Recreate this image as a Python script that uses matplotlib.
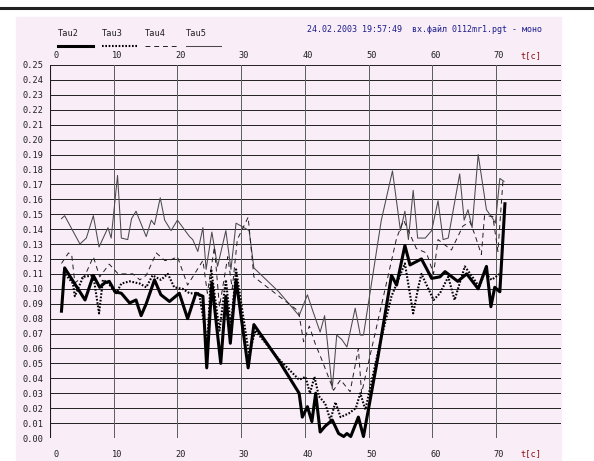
import matplotlib.pyplot as plt
from matplotlib.lines import Line2D
from matplotlib.patches import Rectangle
import numpy as np

# Series: time (s) and value
tau2_t = [1.8, 2.3, 5.5, 6.8, 7.8, 8.6, 9.3, 10.2, 11.2, 12.5, 13.5, 14.3, 15.1,
          16.4, 17.4, 18.75, 20.3, 21.6, 22.9, 24.0, 24.6, 25.4, 26.8, 27.6,
          28.3, 29.2, 31.1, 32.0, 35.9, 39.1, 39.6, 40.4, 41.1, 41.7, 42.4,
          43.2, 44.3, 45.3, 46.1, 46.6, 47.2, 48.4, 49.2, 51.5, 53.6, 54.4,
          55.7, 56.5, 58.3, 59.9, 61.2, 62.0, 64.0, 65.4, 67.2, 68.5, 69.2,
          69.8, 70.6, 71.4]
tau2_v = [0.085, 0.114, 0.0925, 0.109, 0.101, 0.104, 0.105, 0.098, 0.097,
          0.0905, 0.0925, 0.082, 0.090, 0.106, 0.096, 0.0915, 0.097, 0.080,
          0.097, 0.095, 0.047, 0.104, 0.050, 0.095, 0.0635, 0.106, 0.047,
          0.076, 0.052, 0.030, 0.014, 0.021, 0.011, 0.030, 0.004, 0.008,
          0.012, 0.003, 0.001, 0.003, 0.001, 0.014, 0.001, 0.055, 0.109,
          0.1025, 0.129, 0.116, 0.120, 0.107, 0.108, 0.1115, 0.105, 0.110,
          0.100, 0.115, 0.088, 0.101, 0.098, 0.157]

tau3_t = [2.1, 3.6, 3.9, 5.2, 6.8, 7.7, 8.3, 9.1, 10.4, 11.2, 12.5, 14.1, 15.1,
          16.1, 17.4, 18.5, 19.5, 20.8, 21.9, 23.4, 24.7, 25.3, 26.6, 27.6,
          28.4, 29.2, 31.25, 32.2, 35.9, 39.1, 40.1, 40.8, 41.5, 42.2, 43.2,
          44.0, 44.8, 45.6, 46.9, 48.0, 48.7, 49.5, 51.5, 53.6, 55.7, 57.0,
          57.8, 58.3, 60.2, 61.2, 62.5, 63.5, 65.1, 66.3, 67.4, 68.2, 69.3,
          70.6]
tau3_v = [0.1115, 0.1035, 0.095, 0.108, 0.109, 0.0835, 0.106, 0.104, 0.097,
          0.1035, 0.105, 0.1035, 0.101, 0.109, 0.106, 0.110, 0.101, 0.100,
          0.097, 0.097, 0.0635, 0.113, 0.072, 0.106, 0.0745, 0.113, 0.0555,
          0.072, 0.053, 0.039, 0.041, 0.030, 0.041, 0.028, 0.023, 0.012,
          0.024, 0.014, 0.0165, 0.020, 0.030, 0.019, 0.058, 0.095, 0.117,
          0.0835, 0.101, 0.110, 0.0925, 0.097, 0.108, 0.0925, 0.115, 0.108,
          0.101, 0.111, 0.106, 0.110]

tau4_t = [1.8, 2.9, 3.4, 3.9, 5.5, 6.8, 7.8, 9.3, 10.7, 13.0, 14.1, 15.1, 16.7,
          18.0, 18.75, 20.0, 21.6, 24.0, 24.7, 25.8, 26.6, 27.9, 28.6, 29.4,
          31.1, 32.0, 39.0, 39.8, 40.7, 41.6, 42.7, 44.5, 45.6, 47.1, 48.4,
          48.9, 54.4, 55.5, 57.5, 59.1, 60.2, 60.9, 63.0, 64.8, 65.9, 66.7,
          67.7, 68.2, 69.5, 70.3, 71.1]
tau4_v = [0.117, 0.124, 0.123, 0.104, 0.109, 0.1215, 0.108, 0.1165, 0.110,
          0.110, 0.106, 0.109, 0.124, 0.119, 0.119, 0.1215, 0.1025, 0.119,
          0.097, 0.128, 0.088, 0.1215, 0.100, 0.133, 0.148, 0.108, 0.085,
          0.0645, 0.075, 0.0635, 0.052, 0.032, 0.039, 0.031, 0.060, 0.030,
          0.134, 0.146, 0.127, 0.124, 0.110, 0.133, 0.126, 0.142, 0.145,
          0.136, 0.123, 0.149, 0.1485, 0.125, 0.173]

tau5_t = [1.8, 2.3, 4.7, 5.7, 6.8, 7.7, 9.1, 9.6, 10.6, 11.2, 12.2, 12.8, 13.5,
          15.1, 15.9, 16.4, 17.3, 18.0, 19.0, 20.0, 21.9, 22.4, 23.2, 24.0,
          24.5, 25.4, 26.3, 27.6, 28.4, 29.2, 31.25, 32.0, 35.9, 39.1, 40.4,
          41.1, 42.4, 43.1, 44.3, 45.0, 45.8, 46.6, 47.9, 48.7, 49.2, 52.0,
          53.75, 55.0, 55.7, 56.25, 57.0, 57.7, 58.9, 59.9, 60.9, 61.7, 62.5,
          64.3, 65.0, 65.6, 66.25, 67.2, 68.5, 69.5, 69.9, 70.6, 71.25]
tau5_v = [0.147, 0.149, 0.130, 0.134, 0.149, 0.128, 0.141, 0.134, 0.176,
          0.134, 0.133, 0.147, 0.152, 0.135, 0.146, 0.143, 0.161, 0.146,
          0.139, 0.146, 0.135, 0.133, 0.125, 0.141, 0.113, 0.138, 0.115,
          0.139, 0.113, 0.144, 0.139, 0.114, 0.098, 0.082, 0.096, 0.087,
          0.071, 0.082, 0.033, 0.069, 0.066, 0.061, 0.087, 0.069, 0.069,
          0.146, 0.179, 0.139, 0.152, 0.133, 0.166, 0.134, 0.134, 0.139,
          0.159, 0.133, 0.134, 0.177, 0.146, 0.153, 0.141, 0.190, 0.153,
          0.147, 0.144, 0.174, 0.172]

names = ['Tau2', 'Tau3', 'Tau4', 'Tau5']
x_ticks = [0, 10, 20, 30, 40, 50, 60, 70]
y_ticks = np.round(np.arange(0, 0.2501, 0.01), 2)
header = '24.02.2003 19:57:49  вх.файл 0112mr1.pgt - моно'

W, H = 594, 461
FONT = 'DejaVu Sans Mono'
PINK = '#f9eef8'


def fx(px):
    return px / W


def fy(py):
    return 1 - py / H


fig = plt.figure(figsize=(W / 100, H / 100), dpi=100, facecolor='white')

# rule at the very top and the pink panel
fig.add_artist(Line2D([0, 1], [fy(8), fy(8)], color='#202020', lw=2.2,
                      transform=fig.transFigure))
fig.add_artist(Rectangle((fx(16), 0), fx(561) - fx(16), fy(17), color=PINK,
                         transform=fig.transFigure, zorder=0))

ax = fig.add_axes([fx(50), fy(438), fx(561) - fx(50), fy(65) - fy(438)])
ax.set_facecolor(PINK)
ax.set_xlim(0, 80.2)
ax.set_ylim(0, 0.25)

# grid
for v in y_ticks:
    ax.axhline(v, color='#262626', lw=0.72, zorder=1)
for t in x_ticks[1:]:
    ax.axvline(t, color='#606060', lw=0.72, zorder=1)
ax.axvline(0, color='#1a1a1a', lw=0.8, zorder=1)

for s in ax.spines.values():
    s.set_visible(False)

ax.set_xticks([])
ax.set_yticks(y_ticks)
ax.set_yticklabels([f'{v:.2f}' for v in y_ticks], fontsize=6.2,
                   family=FONT, color='#202020')
ax.tick_params(axis='y', length=0, pad=4.5)

# x labels at top and bottom
for t in x_ticks:
    off = 6 if t == 0 else 3
    ax.annotate(str(t), (t, 1), xycoords=('data', 'axes fraction'),
                xytext=(off, 9), textcoords='offset pixels', ha='center',
                va='center', fontsize=6.2, family=FONT, color='#202020')
    ax.annotate(str(t), (t, 0), xycoords=('data', 'axes fraction'),
                xytext=(off, -16), textcoords='offset pixels', ha='center',
                va='center', fontsize=6.2, family=FONT, color='#202020')
for yy, dy in [(1, 9), (0, -16)]:
    ax.annotate('t[c]', (75.5, yy), xycoords=('data', 'axes fraction'),
                xytext=(0, dy), textcoords='offset pixels', ha='center',
                va='center', fontsize=6.2, family=FONT, color='#8b1010')

# series
styles = [
    dict(color='black', lw=2.2, ls='-', solid_joinstyle='round'),
    dict(color='black', lw=1.5, ls=(0, (0.8, 0.8))),
    dict(color='#202020', lw=0.7, ls=(0, (5, 4))),
    dict(color='#4a4a4a', lw=0.75, ls='-'),
]
series = [(tau2_t, tau2_v), (tau3_t, tau3_v), (tau4_t, tau4_v),
          (tau5_t, tau5_v)]
for (t, v), st, zo in zip(series, styles, [6, 5, 4, 3]):
    ax.plot(t, v, zorder=zo, clip_on=False, **st)

# legend at top left
leg_x = [58, 102, 145, 186]
for name, x0, st in zip(names, leg_x, styles):
    fig.text(fx(x0), fy(33), name, fontsize=6.2, family=FONT,
             color='#202020', va='center', ha='left')
    fig.add_artist(Line2D([fx(x0), fx(x0 + 35)], [fy(46), fy(46)],
                          transform=fig.transFigure, **st))

fig.text(fx(307), fy(29), header, fontsize=6.0, family=FONT,
         color='#1c1c8a', va='center', ha='left')

fig.savefig('out.png', dpi=100, facecolor='white')
